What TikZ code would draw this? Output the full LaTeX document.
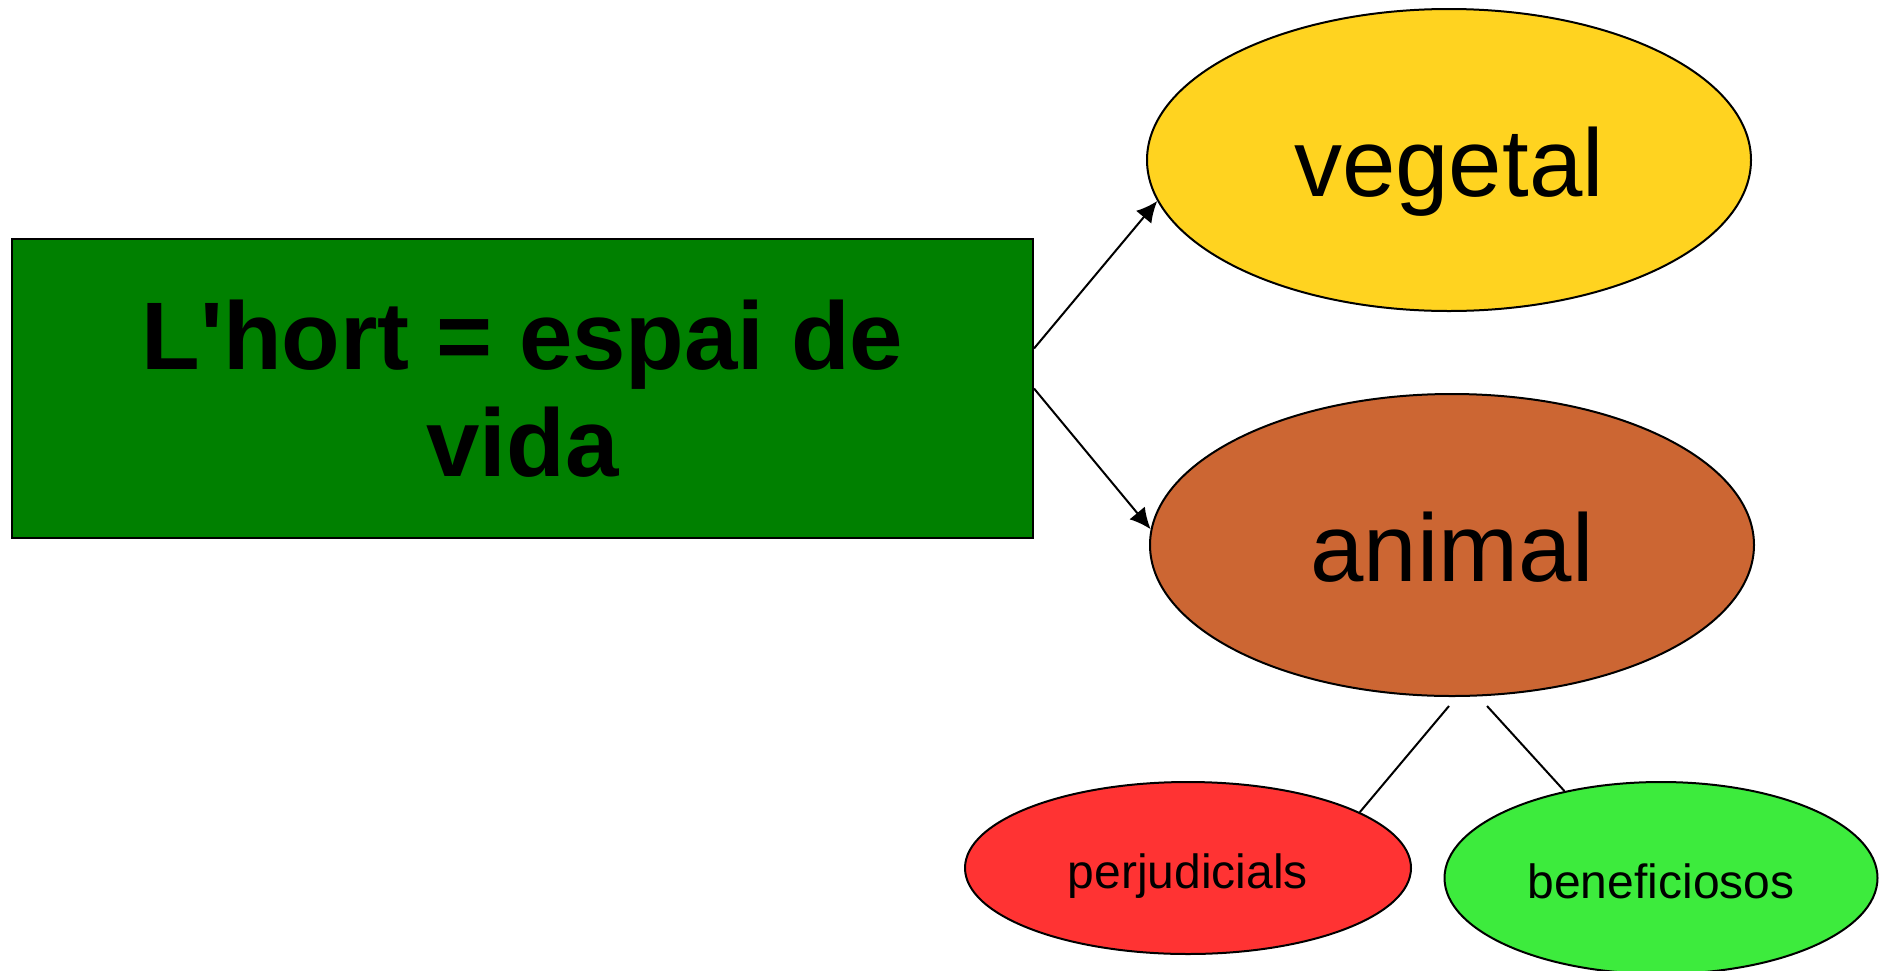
\documentclass[tikz,border=0pt]{standalone}
\usepackage{fontspec}
\setmainfont{Liberation Sans}[Ligatures=TeXOff]
\usetikzlibrary{shapes.geometric, arrows.meta}

\definecolor{hortgreen}{RGB}{0,128,0}
\definecolor{vegyellow}{RGB}{255,211,32}
\definecolor{animalbrown}{RGB}{204,102,51}
\definecolor{badred}{RGB}{255,51,51}
\definecolor{goodgreen}{RGB}{61,235,61}

\begin{document}
\begin{tikzpicture}[x=0.5pt, y=-0.5pt, line width=1pt, >={Latex[length=10.5pt,width=10pt]}]
  \tikzstyle{block} = [draw, rectangle, fill=hortgreen, minimum width=510.5pt, minimum height=149.5pt, inner sep=0pt, align=center, font=\fontsize{48}{53.5}\selectfont\bfseries]
  \tikzstyle{bubble} = [draw, ellipse, inner sep=0pt, minimum width=302pt, minimum height=151pt, text height=45pt, text depth=9pt, font=\fontsize{48}{58}\selectfont]
  \tikzstyle{leaf} = [bubble, minimum height=86pt, text height=24pt, text depth=4pt, font=\fontsize{24}{29}\selectfont]
  \tikzstyle{tmp} = [coordinate]
  \useasboundingbox (0,0) rectangle (1886,970);

  \node [block] (hort) at (522.5,388.5) {L'hort = espai de\\vida};
  \node [bubble, fill=vegyellow] (vegetal) at (1449,160) {vegetal};
  \node [bubble, fill=animalbrown] (animal) at (1452,545) {animal};
  \node [leaf, fill=badred, minimum width=223pt] (perj) at (1188,868) {perjudicials};
  \node [leaf, fill=goodgreen, minimum width=216.5pt, minimum height=96pt] (benef) at (1661,878) {beneficiosos};
  \node [tmp] (split) at ([yshift=20pt]hort.east) {};
  \node [tmp] (aleft) at ([xshift=-1.5pt, yshift=-4.5pt]animal.south) {};
  \node [tmp] (aright) at ([xshift=17.5pt, yshift=-4.5pt]animal.south) {};

  \draw [->] (split) -- (vegetal.188);
  \draw [->] (hort.east) -- (animal.177);
  \draw (aleft) -- (perj.18);
  \draw (aright) -- (benef.138);
\end{tikzpicture}
\end{document}
